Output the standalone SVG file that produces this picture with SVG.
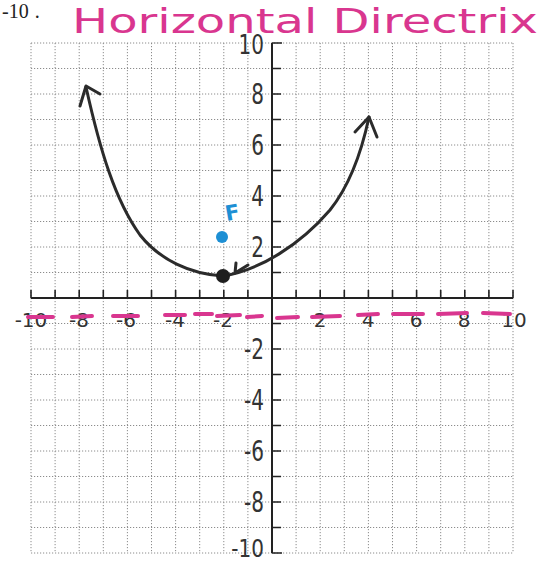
<svg xmlns="http://www.w3.org/2000/svg" width="556" height="564" viewBox="0 0 556 564">
<style>
.grid{stroke:#8c8c8c;stroke-width:1;stroke-dasharray:1.2 1.8;fill:none}
.axis{stroke:#222;stroke-width:2;fill:none}
.tick{stroke:#222;stroke-width:1.6;fill:none}
.xl{font-family:"DejaVu Sans",sans-serif;font-size:20px;fill:#333;text-anchor:middle}
.yl{font-family:"DejaVu Sans",sans-serif;font-size:20px;fill:#333;text-anchor:end}
.dash{stroke:#d9368f;stroke-width:4;stroke-linecap:round;fill:none}
.curve{stroke:#2b2b2b;stroke-width:3;fill:none;stroke-linecap:round;stroke-linejoin:round}
</style>
<rect width="556" height="564" fill="#fff"/>
<text x="2" y="18" font-family="Liberation Serif, serif" font-size="20" fill="#222">-10<tspan dx="6">.</tspan></text>
<text x="72" y="33" font-family="DejaVu Sans, sans-serif" font-size="34" fill="#d9368f" textLength="466" lengthAdjust="spacingAndGlyphs">Horizontal Directrix</text>
<g id="grid">
<path class="grid" d="M31 43V553M55.1 43V553M79.2 43V553M103.3 43V553M127.4 43V553M151.5 43V553M175.6 43V553M199.7 43V553M223.8 43V553M247.9 43V553M296.1 43V553M320.2 43V553M344.3 43V553M368.4 43V553M392.5 43V553M416.6 43V553M440.7 43V553M464.8 43V553M488.9 43V553M513 43V553"/>
<path class="grid" d="M31 43H513M31 68.5H513M31 94H513M31 119.5H513M31 145H513M31 170.5H513M31 196H513M31 221.5H513M31 247H513M31 272.5H513M31 323.5H513M31 349H513M31 374.5H513M31 400H513M31 425.5H513M31 451H513M31 476.5H513M31 502H513M31 527.5H513M31 553H513"/>
</g>
<g id="axes">
<path class="axis" d="M31 298H513M272 43V553"/>
<path class="tick" d="M31 298V290M55.1 298V290M79.2 298V290M103.3 298V290M127.4 298V290M151.5 298V290M175.6 298V290M199.7 298V290M223.8 298V290M247.9 298V290M296.1 298V290M320.2 298V290M344.3 298V290M368.4 298V290M392.5 298V290M416.6 298V290M440.7 298V290M464.8 298V290M488.9 298V290M513 298V290"/>
<path class="tick" d="M272 43H282M272 68.5H281M272 94H281M272 119.5H281M272 145H281M272 170.5H281M272 196H281M272 221.5H281M272 247H281M272 272.5H281M272 323.5H281M272 349H281M272 374.5H281M272 400H281M272 425.5H281M272 451H281M272 476.5H281M272 502H281M272 527.5H281M272 553H282"/>
<g id="xlabels">
<text class="xl" x="31" y="327">-10</text>
<text class="xl" x="79" y="327">-8</text>
<text class="xl" x="126" y="327">-6</text>
<text class="xl" x="175" y="327">-4</text>
<text class="xl" x="223" y="327">-2</text>
<text class="xl" x="320" y="327">2</text>
<text class="xl" x="368" y="327">4</text>
<text class="xl" x="416" y="327">6</text>
<text class="xl" x="464" y="327">8</text>
<text class="xl" x="514" y="327">10</text>
</g>
<g id="ylabels">
<text class="yl" transform="translate(264 54) scale(1 1.3)">10</text>
<text class="yl" transform="translate(264 104) scale(1 1.4)">8</text>
<text class="yl" transform="translate(264 155) scale(1 1.4)">6</text>
<text class="yl" transform="translate(264 206) scale(1 1.4)">4</text>
<text class="yl" transform="translate(264 257) scale(1 1.4)">2</text>
<text class="yl" transform="translate(264 359) scale(1 1.4)">-2</text>
<text class="yl" transform="translate(264 410) scale(1 1.4)">-4</text>
<text class="yl" transform="translate(264 461) scale(1 1.4)">-6</text>
<text class="yl" transform="translate(264 512) scale(1 1.4)">-8</text>
<text class="yl" transform="translate(264 557) scale(1 1.2)">-10</text>
</g>
</g>
<g id="directrix">
<path class="dash" d="M28 317L53 317M72 317L92 316M113 316L138 316M165 315L185 315M195 314L212 314M217 316L240 315M247 317L262 316M277 318L298 317M312 317L340 316M358 315L378 314M393 314L423 314M438 314L467 313M483 313L510 314"/>
</g>
<g id="connectors">
<path class="curve" d="M223 276C190 274 160 260 140 235C115 200 100 150 86 87"/>
<path class="curve" d="M80 106L86 86L100 94"/>
<path class="curve" d="M223 276C260 270 300 245 330 210C350 185 362 150 369 117"/>
<path class="curve" d="M355 132L369 117L377 137"/>
<path class="curve" stroke-width="2.5" d="M236 263L235 273L248 265"/>
</g>
<g id="vertex">
<circle cx="223" cy="276" r="7" fill="#1e1e1e"/>
</g>
<g id="focus">
<circle cx="222" cy="237" r="6" fill="#1d8fd4"/>
<text x="225" y="220" font-family="DejaVu Sans, sans-serif" font-size="21" font-weight="bold" fill="#1d8fd4" transform="rotate(-10 232 212)">F</text>
</g>
</svg>
